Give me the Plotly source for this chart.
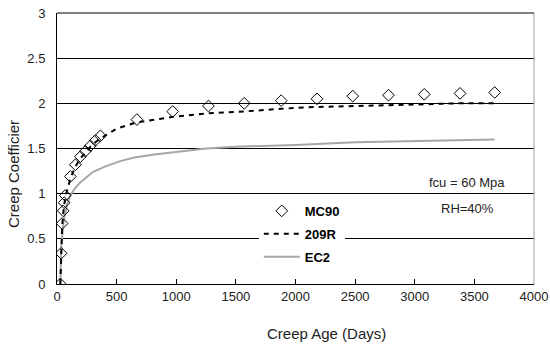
import plotly.graph_objects as go

# MC90 (diamonds)
mc90_days = [28, 35, 43, 52, 60, 69, 112, 154, 196, 238, 280, 322, 364, 670, 970,
             1270, 1570, 1880, 2180, 2480, 2780, 3080, 3380, 3670]
mc90_vals = [0.0, 0.34, 0.67, 0.81, 0.90, 0.98, 1.19, 1.32, 1.41, 1.47, 1.53, 1.59, 1.64, 1.82, 1.91,
             1.97, 2.00, 2.03, 2.05, 2.08, 2.09, 2.10, 2.11, 2.12]

# 209R (dashed)
r209_days = [28, 35, 43, 52, 60, 69, 112, 154, 196, 238, 280, 322, 364, 500, 670, 970,
             1270, 1570, 1880, 2180, 2480, 2780, 3080, 3380, 3670]
r209_vals = [0.0, 0.33, 0.63, 0.78, 0.88, 0.96, 1.17, 1.30, 1.39, 1.46, 1.52, 1.57, 1.61, 1.72, 1.79, 1.85,
             1.89, 1.91, 1.94, 1.96, 1.97, 1.98, 1.99, 2.00, 2.00]

# EC2 (grey)
ec2_days = [28, 30, 35, 42, 56, 84, 112, 150, 200, 300, 400, 530, 650, 800, 1000,
            1250, 1500, 2000, 2500, 3000, 3670]
ec2_vals = [0.0, 0.25, 0.40, 0.50, 0.70, 0.88, 0.98, 1.06, 1.13, 1.24, 1.30, 1.36, 1.40, 1.43, 1.46,
            1.50, 1.52, 1.54, 1.57, 1.58, 1.60]

x_ticks = [0, 500, 1000, 1500, 2000, 2500, 3000, 3500, 4000]
y_ticks = [0, 0.5, 1, 1.5, 2, 2.5, 3]

FONT = "Liberation Sans, Arial, sans-serif"
PW, PH, L, T = 477, 271, 57, 13


def px_x(p):
    return (p - L) / PW


def px_y(p):
    return (T + PH - p) / PH


fig = go.Figure()
fig.add_trace(go.Scatter(x=ec2_days, y=ec2_vals, mode="lines", name="EC2",
                         line=dict(color="#a6a6a6", width=2), legendrank=3, legendgroup="c"))
fig.add_trace(go.Scatter(x=r209_days, y=r209_vals, mode="lines", name="209R",
                         line=dict(color="black", width=2, dash="5px,5px"), legendrank=2, legendgroup="b"))
fig.add_trace(go.Scatter(x=mc90_days, y=mc90_vals, mode="markers", name="MC90",
                         marker=dict(symbol="diamond-open", size=9, color="black", line=dict(width=1)),
                         legendrank=1, legendgroup="a"))

fig.update_layout(
    template="none",
    width=550, height=345,
    margin=dict(l=L, r=550 - L - PW, t=T, b=345 - T - PH, autoexpand=False),
    paper_bgcolor="white", plot_bgcolor="white",
    font=dict(family=FONT, size=13, color="#222"),
    showlegend=True,
    legend=dict(x=0.423, y=0.325, xanchor="left", yanchor="top", bgcolor="white",
                font=dict(family=FONT, size=13, color="black", weight="bold"),
                tracegroupgap=3, traceorder="grouped", itemwidth=36),
    xaxis=dict(range=[0, 4000], tickvals=x_ticks, showgrid=False, zeroline=False, automargin=False,
               showline=True, linecolor="black", linewidth=1,
               ticks="inside", ticklen=5, tickcolor="black",
               tickfont=dict(size=13, color="#222")),
    yaxis=dict(range=[0, 3], tickvals=y_ticks, showgrid=True, gridcolor="black", gridwidth=1,
               zeroline=False, showline=True, linecolor="black", linewidth=1, automargin=False,
               ticks="", ticklabelstandoff=8,
               tickfont=dict(size=13, color="#222")),
    shapes=[
        dict(type="rect", xref="paper", yref="paper", x0=px_x(252), x1=px_x(378),
             y0=px_y(272), y1=px_y(199), layer="between",
             fillcolor="white", line=dict(width=0)),
        dict(type="line", xref="paper", yref="paper", x0=1, x1=1, y0=0, y1=1,
             line=dict(color="#a0a0a0", width=1)),
        dict(type="line", xref="paper", yref="paper", x0=0, x1=1, y0=1, y1=1,
             line=dict(color="black", width=1)),
    ],
    annotations=[
        dict(text="Creep Age (Days)", xref="paper", yref="paper", x=px_x(326), y=px_y(333),
             showarrow=False, font=dict(size=15, color="#222"), xanchor="center", yanchor="middle"),
        dict(text="Creep Coefficier", xref="paper", yref="paper", x=px_x(14), y=px_y(174),
             showarrow=False, textangle=-90, font=dict(size=15, color="#222"),
             xanchor="center", yanchor="middle"),
        dict(text="fcu = 60 Mpa", xref="paper", yref="paper", x=px_x(467), y=px_y(183),
             showarrow=False, font=dict(size=13, color="#222"), xanchor="center", yanchor="middle"),
        dict(text="RH=40%", xref="paper", yref="paper", x=px_x(467), y=px_y(208),
             showarrow=False, font=dict(size=13, color="#222"), xanchor="center", yanchor="middle"),
    ],
)

fig.write_html("out.html", config={"displayModeBar": False},
               post_script="document.body.style.margin='0';document.body.style.overflow='hidden';")
